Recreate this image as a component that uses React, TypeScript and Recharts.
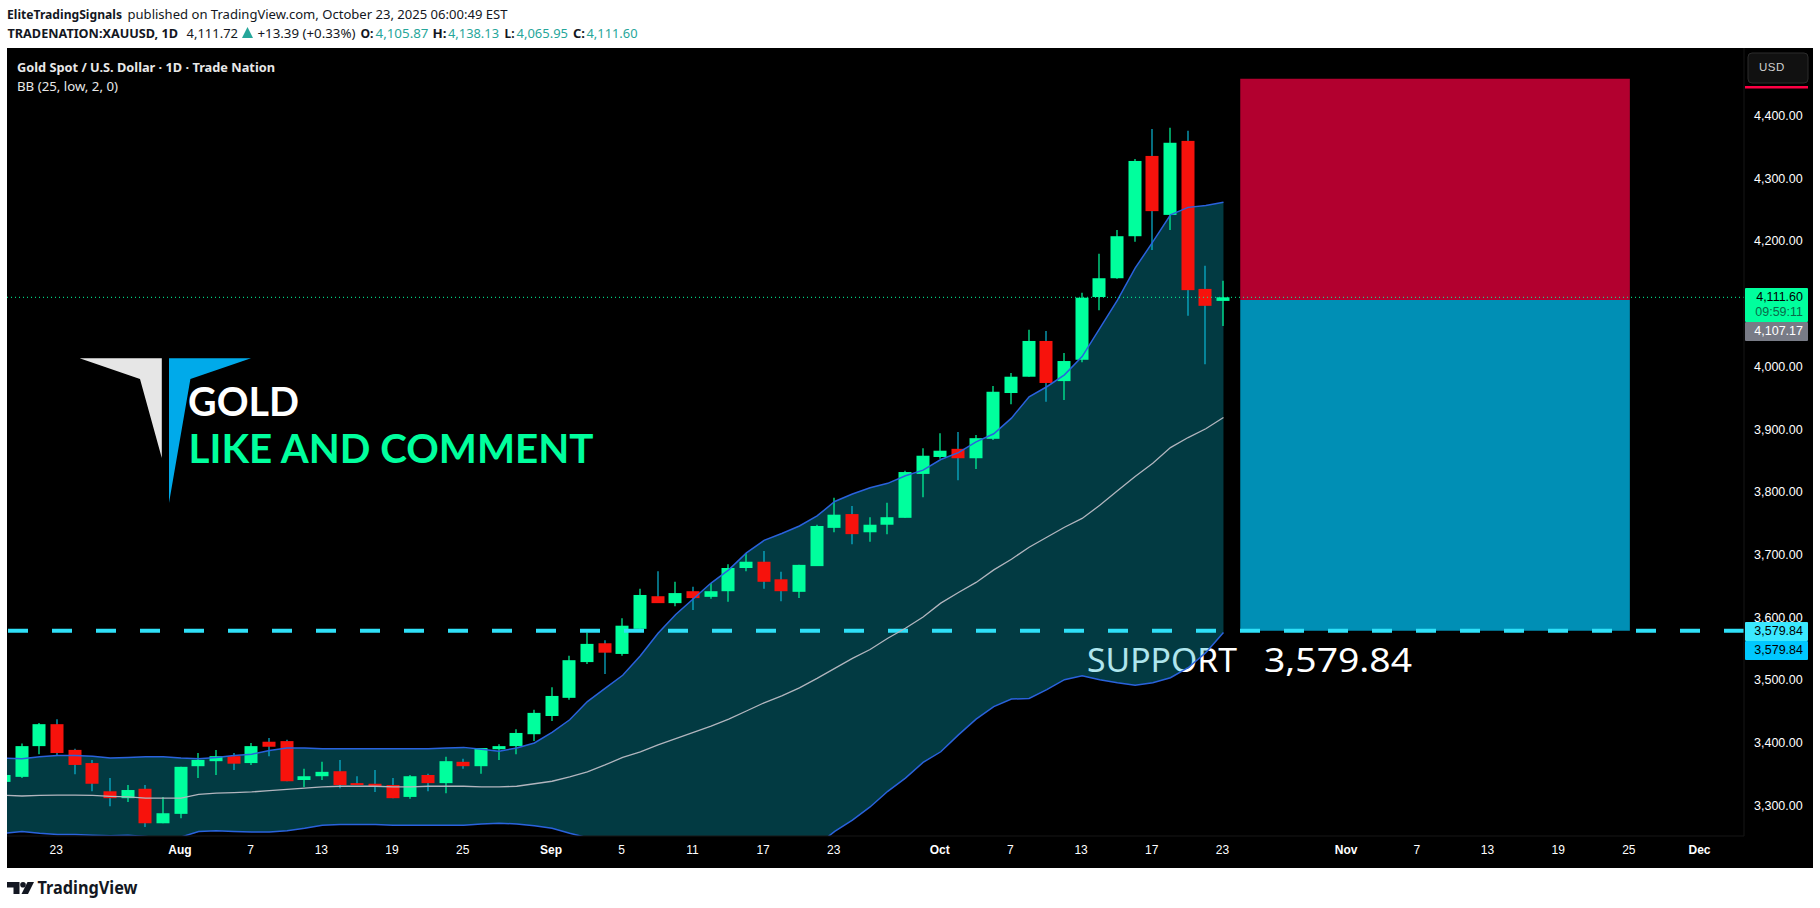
import {
  Area,
  Bar,
  ComposedChart,
  Line,
  ReferenceArea,
  ReferenceLine,
  XAxis,
  YAxis,
} from "recharts";

// daily candles, index 0 = Jul 18 (weekends skipped)
const opens = [
  3339, 3347, 3396, 3431, 3390, 3369, 3324, 3313, 3328, 3273,
  3288, 3364, 3372, 3380, 3369, 3403, 3404, 3342, 3348, 3356,
  3337, 3336, 3334, 3315, 3350, 3337, 3371, 3364, 3391, 3396,
  3415, 3444, 3473, 3530, 3560, 3543, 3583, 3635, 3624, 3643,
  3634, 3643, 3680, 3690, 3662, 3642, 3683, 3744, 3766, 3737,
  3749, 3760, 3830, 3857, 3870, 3855, 3886, 3959, 3985, 4042,
  3978, 4012, 4112, 4142, 4209, 4337, 4243, 4361, 4125, 4105.87,
];
const highs = [
  3353, 3400, 3433, 3439, 3392, 3374, 3345, 3334, 3334, 3315,
  3363, 3385, 3390, 3385, 3401, 3409, 3406, 3360, 3371, 3374,
  3348, 3358, 3345, 3350, 3352, 3379, 3376, 3393, 3399, 3423,
  3454, 3490, 3540, 3577, 3565, 3600, 3647, 3675, 3658, 3650,
  3656, 3686, 3704, 3707, 3674, 3685, 3749, 3792, 3779, 3761,
  3784, 3835, 3871, 3895, 3897, 3892, 3970, 3991, 4060, 4058,
  4023, 4119, 4181, 4219, 4332, 4380, 4382, 4377, 4162, 4138.13,
];
const lows = [
  3337, 3345, 3383, 3382, 3351, 3324, 3300, 3307, 3267, 3273,
  3281, 3345, 3350, 3358, 3366, 3380, 3340, 3331, 3342, 3329,
  3334, 3323, 3313, 3312, 3324, 3321, 3360, 3352, 3374, 3383,
  3404, 3436, 3470, 3527, 3511, 3540, 3583, 3624, 3619, 3613,
  3631, 3626, 3675, 3647, 3627, 3632, 3683, 3737, 3718, 3722,
  3734, 3760, 3793, 3854, 3820, 3838, 3884, 3941, 3985, 3945,
  3948, 4008, 4091, 4141, 4200, 4187, 4219, 4082, 4005, 4065.95,
];
const closes = [
  3350, 3396, 3431, 3385, 3366, 3336, 3313, 3326, 3273, 3289,
  3363, 3374, 3380, 3368, 3396, 3395, 3340, 3348, 3355, 3334,
  3334, 3331, 3313, 3348, 3337, 3372, 3364, 3393, 3396, 3417,
  3449, 3476, 3533, 3559, 3545, 3588, 3637, 3624, 3640, 3632,
  3643, 3680, 3690, 3658, 3643, 3685, 3747, 3765, 3734, 3749,
  3761, 3833, 3859, 3867, 3855, 3887, 3961, 3985, 4042, 3975,
  4010, 4111, 4142, 4209, 4329, 4249, 4358, 4123, 4098, 4111.6,
];

// BB (25, low, 2, 0)
const bbUpper = [
  3377, 3376, 3379, 3381, 3381, 3380, 3377, 3378, 3379, 3379,
  3377, 3376, 3378, 3381, 3383, 3389, 3393, 3393, 3392, 3392,
  3392, 3392, 3392, 3392, 3392, 3393, 3394, 3391, 3388, 3393,
  3401, 3418, 3438, 3467, 3488, 3509, 3540, 3576, 3606, 3631,
  3656, 3677, 3704, 3724, 3735, 3747, 3763, 3786, 3798, 3808,
  3815, 3827, 3836, 3853, 3864, 3881, 3894, 3919, 3953, 3969,
  3988, 4017, 4062, 4107, 4158, 4200, 4243, 4255, 4258, 4263,
];
const bbBasis = [
  3317.5, 3316.5, 3317.5, 3318, 3318, 3317.5, 3316, 3315, 3313, 3313,
  3313, 3319, 3321, 3322, 3323, 3325, 3327, 3329, 3331, 3332,
  3332, 3332, 3331, 3331, 3332, 3332, 3332, 3331, 3331, 3332,
  3336, 3340, 3347, 3355, 3366, 3378, 3387, 3398, 3408, 3418,
  3428, 3439, 3452, 3465, 3476, 3489, 3504, 3520, 3536, 3550,
  3568, 3584, 3602, 3624, 3641, 3657, 3677, 3694, 3713, 3729,
  3745, 3759, 3780, 3803, 3826, 3847, 3872, 3888, 3902, 3920,
];
const bbLower = [
  3257, 3260, 3257, 3255, 3255, 3254, 3253, 3254, 3252, 3249,
  3251, 3260, 3261, 3260, 3259, 3259, 3261, 3265, 3270, 3271,
  3271, 3271, 3270, 3270, 3270, 3270, 3270, 3272, 3273, 3272,
  3269, 3265, 3257, 3250, 3243, 3235, 3228, 3222, 3216, 3212,
  3209, 3208, 3209, 3212, 3218, 3226, 3238, 3260, 3278, 3299,
  3324, 3345, 3370, 3387, 3414, 3439, 3459, 3471, 3472, 3486,
  3502, 3508, 3502, 3497, 3493, 3497, 3505, 3521, 3545, 3577,
];

const timeTicks = [3, 10, 14, 18, 22, 26, 31, 35, 39, 43, 47, 53, 57, 61, 65, 69, 76, 80, 84, 88, 92, 96];
const timeLabels = ["23", "Aug", "7", "13", "19", "25", "Sep", "5", "11", "17", "23", "Oct", "7", "13", "17", "23", "Nov", "7", "13", "19", "25", "Dec"];
// 4,100 sits behind the price badges in the picture
const priceTicks = [3300, 3400, 3500, 3600, 3700, 3800, 3900, 4000, 4200, 4300, 4400];

const lastPrice = 4111.6;
const supportPrice = 3579.84;
const entryPrice = 4107.17;
const stopPrice = 4460;
const positionStart = 69.95;
const positionEnd = 92;

const candles = opens.map((open, i) => ({
  i,
  open,
  high: highs[i],
  low: lows[i],
  close: closes[i],
  upper: bbUpper[i],
  basis: bbBasis[i],
  lower: bbLower[i],
}));

const GREEN = "#00ff9d";
const RED = "#f7120c";
const WICK_RED = "#0ab7d6";
const BLUE_LINE = "#2a62dc";
const FONT = "'Noto Sans', 'Open Sans', sans-serif";
const AXIS_FONT = "'Liberation Sans', Arial, sans-serif";

function Candle(props: any) {
  const { x, y, width, height, payload } = props;
  const k = height / (payload.high - payload.low);
  const up = payload.close >= payload.open;
  const top = y + (payload.high - Math.max(payload.open, payload.close)) * k;
  const bodyH = Math.max(Math.abs(payload.open - payload.close) * k, 1);
  const cx = Math.round(x + width / 2);
  return (
    <g>
      <line x1={cx} x2={cx} y1={y} y2={y + height} stroke={up ? GREEN : WICK_RED} strokeWidth={1.2} />
      <rect x={cx - 6.5} y={top} width={13} height={bodyH} fill={up ? GREEN : RED} />
    </g>
  );
}

function TimeTick(props: any) {
  const { x, y, payload } = props;
  const label = timeLabels[timeTicks.indexOf(payload.value)];
  const month = /[A-Z]/.test(label);
  return (
    <text x={x - 1} y={y + 10} textAnchor="middle" fill="#fff" fontSize={12} fontWeight={month ? 700 : 400} fontFamily={AXIS_FONT}>
      {label}
    </text>
  );
}

function PriceTick(props: any) {
  const { x, y, payload } = props;
  return (
    <text x={x} y={y + 3.5} fill="#fff" fontSize={12.5} fontFamily={AXIS_FONT}>
      {payload.value.toLocaleString("en-US", { minimumFractionDigits: 2 })}
    </text>
  );
}

// text squeezed to the width it has in the picture
function T({ x, y, w, size = 13, bold, fill = "#131722", font = FONT, children }: any) {
  return (
    <text x={x} y={y} textLength={w} lengthAdjust="spacingAndGlyphs" fontSize={size} fontWeight={bold ? 700 : 400} fill={fill} fontFamily={font}>
      {children}
    </text>
  );
}

function Badge({ y, h, fill, rows }: any) {
  return (
    <g>
      <rect x={1745} y={y} width={63} height={h} fill={fill} rx={1} />
      {rows.map((r: any, idx: number) => (
        <text key={idx} x={1803} y={r.y} textAnchor="end" fontSize={12.5} fontFamily={AXIS_FONT} fill={r.fill}>
          {r.text}
        </text>
      ))}
    </g>
  );
}

const layer = { position: "absolute", left: 0, top: 0 } as const;

export default function App() {
  return (
    <div style={{ position: "absolute", left: 0, top: 0, width: 1820, height: 908, background: "#fff", overflow: "hidden" }}>
      {/* header, black pane and everything that lies under the chart */}
      <svg width={1820} height={908} style={layer}>
        <T x={7} y={19} w={115} bold>EliteTradingSignals</T>
        <T x={127.5} y={19} w={380}>published on TradingView.com, October 23, 2025 06:00:49 EST</T>
        <T x={7.5} y={38} w={170.5} bold>TRADENATION:XAUUSD, 1D</T>
        <T x={186.5} y={38} w={51.5}>4,111.72</T>
        <polygon points="247.5,27 253,38 242,38" fill="#26a69a" />
        <T x={257.5} y={38} w={98}>+13.39 (+0.33%)</T>
        <T x={360.5} y={38} w={13} bold>O:</T>
        <T x={375.5} y={38} w={53} fill="#26a69a">4,105.87</T>
        <T x={432.5} y={38} w={14} bold>H:</T>
        <T x={448} y={38} w={51} fill="#26a69a">4,138.13</T>
        <T x={504.5} y={38} w={10} bold>L:</T>
        <T x={516.5} y={38} w={51.5} fill="#26a69a">4,065.95</T>
        <T x={573} y={38} w={12} bold>C:</T>
        <T x={586.5} y={38} w={51} fill="#26a69a">4,111.60</T>

        <rect x={7} y={48} width={1806} height={820} fill="#000" />

        <T x={17} y={72} w={258} bold fill="#e8e8e8">Gold Spot / U.S. Dollar · 1D · Trade Nation</T>
        <T x={17} y={91} w={101} fill="#e8e8e8">BB (25, low, 2, 0)</T>

        <polygon points="79.6,358.3 161.8,358.3 161.8,458 140,379" fill="#e6e6e6" />
        <polygon points="169,358.3 251,358.3 190.4,379 169,503" fill="#00aaea" />
        <T x={188} y={416} w={111} size={41} bold fill="#fff" font="Lato, sans-serif">GOLD</T>
        <T x={188.5} y={462.7} w={405} size={41} bold fill={GREEN} font="Lato, sans-serif">LIKE AND COMMENT</T>

        <T x={1087} y={671.7} w={150} size={33.5} fill="#fff">SUPPORT</T>
        <T x={1264} y={671.7} w={148} size={33.5} fill="#fff">3,579.84</T>

        {/* TradingView mark */}
        <path d="M7 882h12.5v12h-6v-6.5H7z" fill="#131722" />
        <circle cx={23} cy={884.8} r={2.8} fill="#131722" />
        <path d="M27.5 882H34l-6 12h-6.5z" fill="#131722" />
        <T x={37.5} y={894} w={100} size={17.5} bold>TradingView</T>
      </svg>

      <ComposedChart
        width={1806}
        height={820}
        data={candles}
        margin={{ top: 0, right: 0, bottom: 0, left: 0 }}
        style={{ position: "absolute", left: 7, top: 48 }}
      >
        <XAxis
          dataKey="i"
          type="number"
          domain={[0.153, 98.46]}
          allowDataOverflow
          ticks={timeTicks}
          interval={0}
          height={32}
          tick={<TimeTick />}
          tickLine={false}
          axisLine={{ stroke: "#161616" }}
        />
        <YAxis
          type="number"
          orientation="right"
          domain={[3252.7, 4509.1]}
          allowDataOverflow
          ticks={priceTicks}
          interval={0}
          width={69}
          tickLine={false}
          tickMargin={4}
          axisLine={{ stroke: "#161616" }}
          tick={<PriceTick />}
        />
        <ReferenceArea x1={positionStart} x2={positionEnd} y1={entryPrice} y2={stopPrice} fill="#b2002f" fillOpacity={1} stroke="none" ifOverflow="hidden" />
        <ReferenceArea x1={positionStart} x2={positionEnd} y1={supportPrice} y2={entryPrice} fill="#008fb5" fillOpacity={1} stroke="none" ifOverflow="hidden" />
        <Area
          dataKey={(d: any) => [d.lower, d.upper]}
          stroke="none"
          fill="rgb(6,178,203)"
          fillOpacity={0.325}
          isAnimationActive={false}
          dot={false}
          activeDot={false}
        />
        <ReferenceLine y={supportPrice} stroke="#2fe0f8" strokeWidth={4} strokeDasharray="20 24" />
        <Line dataKey="upper" stroke={BLUE_LINE} strokeWidth={1.5} dot={false} activeDot={false} isAnimationActive={false} />
        <Line dataKey="lower" stroke={BLUE_LINE} strokeWidth={1.5} dot={false} activeDot={false} isAnimationActive={false} />
        <Line dataKey="basis" stroke="#b2b5be" strokeWidth={1.3} dot={false} activeDot={false} isAnimationActive={false} />
        <ReferenceLine y={lastPrice} stroke={GREEN} strokeWidth={1} strokeDasharray="1 3" />
        <Bar dataKey={(d: any) => [d.low, d.high]} barSize={13} shape={<Candle />} isAnimationActive={false} />
      </ComposedChart>

      {/* price badges on the right scale */}
      <svg width={1820} height={908} style={{ ...layer, pointerEvents: "none" }}>
        <rect x={1748} y={53} width={60} height={30} rx={4} fill="#111" stroke="#2c2c2c" />
        <text x={1759} y={71} fontSize={11.5} letterSpacing={0.5} fill="#d0d0d0" fontFamily={AXIS_FONT}>USD</text>
        <rect x={1745} y={86} width={63} height={2.5} fill="#ff0044" />
        <Badge y={288} h={34} fill={GREEN} rows={[{ y: 300.5, text: "4,111.60", fill: "#000" }, { y: 316, text: "09:59:11", fill: "#0a6b4a" }]} />
        <Badge y={322} h={19} fill="#787b86" rows={[{ y: 335, text: "4,107.17", fill: "#fff" }]} />
        <Badge y={622} h={19} fill="#3be8ff" rows={[{ y: 635, text: "3,579.84", fill: "#000" }]} />
        <Badge y={641} h={19} fill="#00c8ff" rows={[{ y: 654, text: "3,579.84", fill: "#000" }]} />
      </svg>
    </div>
  );
}
